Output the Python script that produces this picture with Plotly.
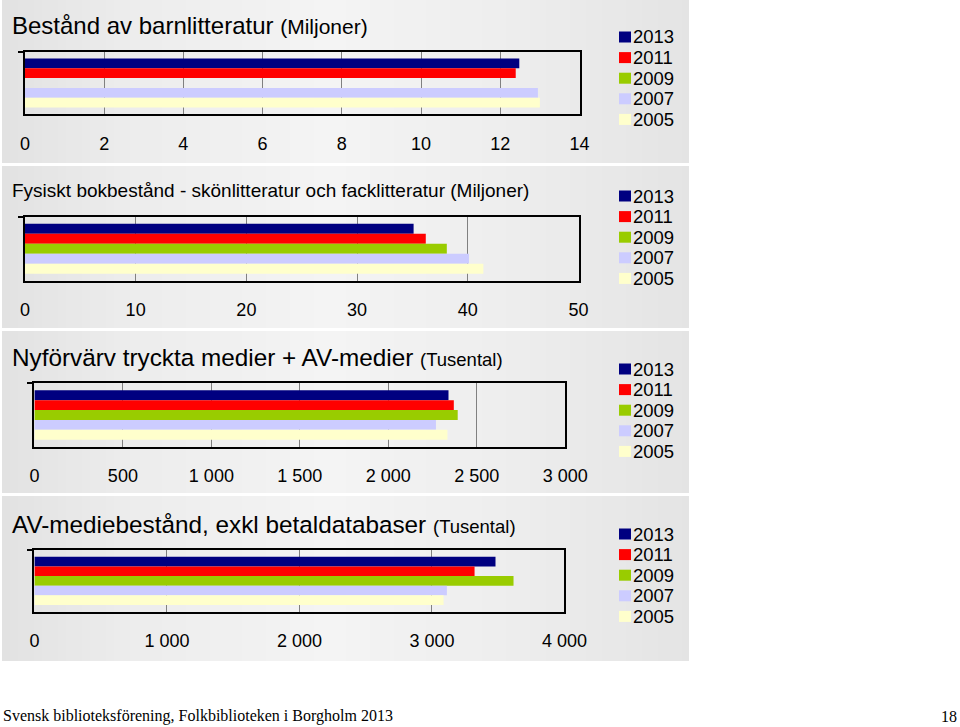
import plotly.graph_objects as go

# ---------------- data ----------------
years = ["2013", "2011", "2009", "2007", "2005"]
colors = ["#000080", "#FF0000", "#99CC00", "#CCCCFF", "#FFFFCC"]

titles = [
    "Bestånd av barnlitteratur",
    "Fysiskt bokbestånd - skönlitteratur och facklitteratur",
    "Nyförvärv tryckta medier + AV-medier",
    "AV-mediebestånd, exkl betaldatabaser",
]
units = ["(Miljoner)", "(Miljoner)", "(Tusental)", "(Tusental)"]

barnlitteratur = [12.48, 12.39, None, 12.95, 13.0]
fysiskt_bokbestand = [35.1, 36.2, 38.1, 40.1, 41.4]
nyforvarv = [2340, 2370, 2392, 2269, 2334]
av_mediebestand = [3480, 3322, 3616, 3113, 3088]

x_max = [14, 50, 3000, 4000]
x_dtick = [2, 10, 500, 1000]

footer_left = "Svensk biblioteksförening, Folkbiblioteken i Borgholm 2013"
footer_right = "18"

series = [barnlitteratur, fysiskt_bokbestand, nyforvarv, av_mediebestand]

# ---------------- layout helpers (pixels -> paper) ----------------
W, H = 960, 727
def px(x):
    return x / W
def py(y):
    return 1 - y / H

# plot boxes: (x0, x1, ytop, ybottom) in pixels
boxes = [
    (24.9, 579.5, 51.7, 114.3),
    (24.9, 578.6, 216.7, 280.7),
    (34.4, 565.3, 383.3, 446.7),
    (34.4, 564.4, 550.0, 611.7),
]
title_y = [26, 190, 357, 524]
title_sizes = [(24, 21), (19, 19), (24.3, 18.5), (24.3, 18.5)]
legend_top = [37, 196, 369, 534]
legend_step = 20.6

fig = go.Figure()

for k in range(4):
    ax = "" if k == 0 else str(k + 1)
    for i, yr in enumerate(years):
        fig.add_trace(go.Bar(
            x=[series[k][i]], y=[titles[k]], orientation="h",
            name=yr, marker=dict(color=colors[i], line=dict(width=0)),
            xaxis="x" + ax, yaxis="y" + ax, showlegend=False,
            hoverinfo="x+name",
        ))

layout = dict(
    width=W, height=H, autosize=False,
    margin=dict(l=0, r=0, t=0, b=0, pad=0, autoexpand=False),
    paper_bgcolor="white", plot_bgcolor="rgba(0,0,0,0)",
    barmode="group", bargap=0.22, bargroupgap=0,
    separators=", ",
    font=dict(family="Liberation Sans, Arial", color="black"),
)

for k in range(4):
    ax = "" if k == 0 else str(k + 1)
    x0, x1, yt, yb = boxes[k]
    layout["xaxis" + ax] = dict(
        domain=[px(x0), px(x1)], anchor="y" + ax, automargin=False,
        range=[0, x_max[k]], dtick=x_dtick[k], tick0=0,
        showgrid=True, gridcolor="#808080", gridwidth=1,
        showline=True, mirror=True, linecolor="black", linewidth=2,
        zeroline=False,
        ticks="outside", ticklen=12, tickcolor="rgba(0,0,0,0)",
        tickfont=dict(size=18, color="black"),
        separatethousands=True, fixedrange=True,
    )
    layout["yaxis" + ax] = dict(
        domain=[py(yb), py(yt)], anchor="x" + ax, automargin=False,
        type="category", autorange="reversed",
        showline=True, mirror=True, linecolor="black", linewidth=2,
        showgrid=False, zeroline=False,
        tickson="boundaries", ticks="outside", ticklen=5,
        tickwidth=2, tickcolor="black",
        showticklabels=False, fixedrange=True,
    )

# background gradient panels
shapes = []
stops = [(0, 226), (120, 236), (330, 244), (520, 237), (689, 228)]
def gray(x):
    for (xa, ga), (xb, gb) in zip(stops[:-1], stops[1:]):
        if xa <= x <= xb:
            return ga + (gb - ga) * (x - xa) / (xb - xa)
    return stops[-1][1]

step = 8
xs = list(range(2, 689, step))
for xa in xs:
    xb = min(xa + step, 689)
    g = int(round(gray((xa + xb) / 2)))
    shapes.append(dict(type="rect", xref="paper", yref="paper",
                       x0=px(xa), x1=min(px(xb) + 0.0005, px(689)), y0=py(661), y1=py(0),
                       fillcolor=f"rgb({g},{g},{g})", line=dict(width=0),
                       layer="below"))
for ys in [(163, 166), (328, 331), (493, 496)]:
    shapes.append(dict(type="rect", xref="paper", yref="paper",
                       x0=0, x1=px(692), y0=py(ys[1]), y1=py(ys[0]),
                       fillcolor="white", line=dict(width=0), layer="below"))

annotations = []
for k in range(4):
    big, small = title_sizes[k]
    annotations.append(dict(
        xref="paper", yref="paper", x=px(10), y=py(title_y[k]),
        xanchor="left", yanchor="middle", showarrow=False,
        text=f"{titles[k]} <span style='font-size:{small}px'>{units[k]}</span>",
        font=dict(size=big, color="black", family="Liberation Sans, Arial"),
    ))
    # legend
    for i, yr in enumerate(years):
        yc = legend_top[k] + i * legend_step
        shapes.append(dict(type="rect", xref="paper", yref="paper",
                           x0=px(619), x1=px(631), y0=py(yc + 5.5), y1=py(yc - 5.5),
                           fillcolor=colors[i], line=dict(width=0)))
        annotations.append(dict(
            xref="paper", yref="paper", x=px(631), y=py(yc),
            xanchor="left", yanchor="middle", showarrow=False,
            text=yr, font=dict(size=18.5, color="black", family="Liberation Sans, Arial"),
        ))

annotations.append(dict(
    xref="paper", yref="paper", x=px(1), y=py(716),
    xanchor="left", yanchor="middle", showarrow=False,
    text=footer_left, font=dict(size=16, color="black", family="Liberation Serif, Times New Roman"),
))
annotations.append(dict(
    xref="paper", yref="paper", x=px(959), y=py(716),
    xanchor="right", yanchor="middle", showarrow=False,
    text=footer_right, font=dict(size=16, color="black", family="Liberation Serif, Times New Roman"),
))

layout["shapes"] = shapes
layout["annotations"] = annotations
fig.update_layout(**layout)

fig.write_html("out.html", config={"displayModeBar": False, "responsive": False})

# remove default page margins so the figure sits at the top-left corner
with open("out.html", "r", encoding="utf-8") as f:
    html = f.read()
html = html.replace("<head>", "<head><style>html,body{margin:0;padding:0;overflow:hidden;}</style>", 1)
with open("out.html", "w", encoding="utf-8") as f:
    f.write(html)
